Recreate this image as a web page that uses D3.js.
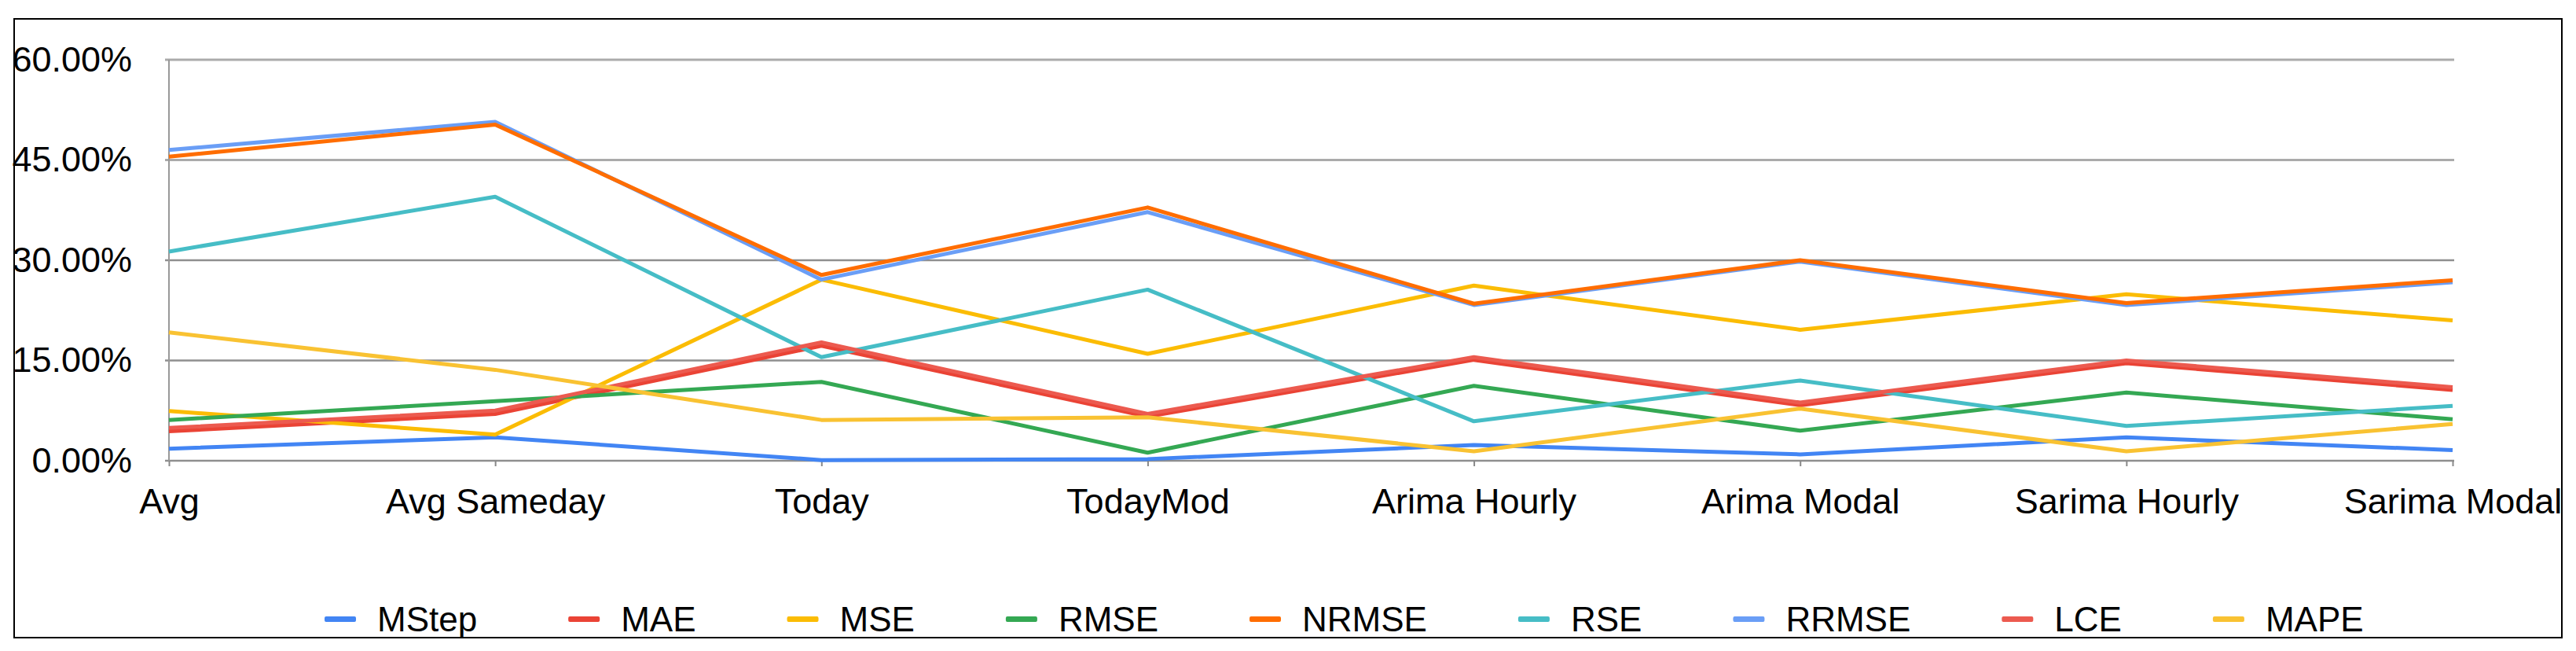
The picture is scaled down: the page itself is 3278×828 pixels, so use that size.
<!DOCTYPE html>
<html>
<head>
<meta charset="utf-8">
<script src="https://cdn.jsdelivr.net/npm/d3@7"></script>
<style>
  body { margin: 0; background: #fff; }
  text { font-family: "Liberation Sans", Arial, sans-serif; fill: #000; }
</style>
</head>
<body>
<div id="viz"></div>
<script>
// categories (x axis)
var categories = ['Avg', 'Avg Sameday', 'Today', 'TodayMod', 'Arima Hourly', 'Arima Modal', 'Sarima Hourly', 'Sarima Modal'];

// series values, in percent
var mstep = [1.8, 3.5, 0.1, 0.25, 2.35, 0.95, 3.5, 1.6];
var mae   = [4.4, 7.0, 17.2, 6.6, 15.1, 8.3, 14.6, 10.6];
var mse   = [7.45, 3.9, 27.1, 16.0, 26.2, 19.6, 24.9, 21.0];
var rmse  = [6.1, 8.9, 11.8, 1.2, 11.2, 4.5, 10.2, 6.2];
var nrmse = [45.5, 50.3, 27.8, 37.9, 23.5, 30.0, 23.6, 27.0];
var rse   = [31.3, 39.5, 15.5, 25.6, 5.9, 12.0, 5.2, 8.2];
var rrmse = [46.5, 50.7, 27.1, 37.2, 23.3, 29.8, 23.3, 26.7];
var lce   = [4.9, 7.5, 17.7, 7.0, 15.5, 8.7, 15.0, 11.0];
var mape  = [19.2, 13.6, 6.1, 6.5, 1.4, 7.8, 1.4, 5.5];

var seriesNames = ['MStep', 'MAE', 'MSE', 'RMSE', 'NRMSE', 'RSE', 'RRMSE', 'LCE', 'MAPE'];
var seriesValues = [mstep, mae, mse, rmse, nrmse, rse, rrmse, lce, mape];
var colors = ['#4285F4', '#EA4335', '#FBBC04', '#34A853', '#FF6D01', '#46BDC6', '#6A9EF6', '#EC5A4F', '#F9C232'];

// drawing order (orange NRMSE sits on top of RRMSE in the original)
var drawOrder = [0, 1, 2, 3, 6, 4, 5, 7, 8];

// y ticks
var yTicks = [0, 0.15, 0.30, 0.45, 0.60];

var W = 3278, H = 828;
var svg = d3.select('#viz').append('svg')
  .attr('width', W)
  .attr('height', H);

svg.append('rect').attr('width', W).attr('height', H).attr('fill', '#fff');

// outer frame
svg.append('rect')
  .attr('x', 18).attr('y', 24)
  .attr('width', 3260 - 18).attr('height', 811 - 24)
  .attr('fill', 'none')
  .attr('stroke', '#000')
  .attr('stroke-width', 2);

var plotLeft = 215, plotRight = 3121, plotTop = 76, plotBottom = 586;

var x = d3.scalePoint().domain(categories).range([plotLeft, plotRight]);
var y = d3.scaleLinear().domain([0, 0.6]).range([plotBottom, plotTop]);

// gridlines
svg.append('g').selectAll('line')
  .data(yTicks)
  .enter().append('line')
  .attr('x1', plotLeft - 5)
  .attr('x2', plotRight + 2)
  .attr('y1', function (d) { return y(d); })
  .attr('y2', function (d) { return y(d); })
  .attr('stroke', function (d) { return d >= 0.45 ? '#ababab' : '#8f8f8f'; })
  .attr('stroke-width', function (d) { return d >= 0.45 ? 3 : 2.5; });

// vertical axis line
svg.append('line')
  .attr('x1', plotLeft).attr('x2', plotLeft)
  .attr('y1', plotTop).attr('y2', plotBottom)
  .attr('stroke', '#999')
  .attr('stroke-width', 2);

// y axis labels
var yAxis = svg.append('g')
  .attr('transform', 'translate(' + plotLeft + ',0)')
  .call(d3.axisLeft(y).tickValues(yTicks).tickFormat(d3.format('.2%')).tickSize(0).tickPadding(47));
yAxis.select('.domain').remove();
yAxis.selectAll('text').style('font-size', '45px');

// x axis
var xAxis = svg.append('g')
  .attr('transform', 'translate(0,' + plotBottom + ')')
  .call(d3.axisBottom(x).tickSize(7).tickPadding(28));
xAxis.select('.domain').remove();
xAxis.selectAll('line').attr('stroke', '#888').attr('stroke-width', 2);
xAxis.selectAll('text').style('font-size', '45px');

// lines
var line = d3.line()
  .x(function (d, i) { return x(categories[i]); })
  .y(function (d) { return y(d / 100); });

svg.append('g').selectAll('path')
  .data(drawOrder)
  .enter().append('path')
  .attr('d', function (k) { return line(seriesValues[k]); })
  .attr('fill', 'none')
  .attr('stroke', function (k) { return colors[k]; })
  .attr('stroke-width', 5)
  .attr('stroke-linejoin', 'round');

// legend
var legend = svg.append('g').attr('transform', 'translate(413,0)');
var lx = 0;
seriesNames.forEach(function (name, i) {
  var g = legend.append('g').attr('transform', 'translate(' + lx + ',0)');
  g.append('rect')
    .attr('x', 0).attr('y', 784)
    .attr('width', 40).attr('height', 7)
    .attr('rx', 2)
    .attr('fill', colors[i]);
  var t = g.append('text')
    .attr('x', 67).attr('y', 803)
    .style('font-size', '44px')
    .text(name);
  lx += 67 + t.node().getComputedTextLength() + 116;
});
</script>
</body>
</html>
